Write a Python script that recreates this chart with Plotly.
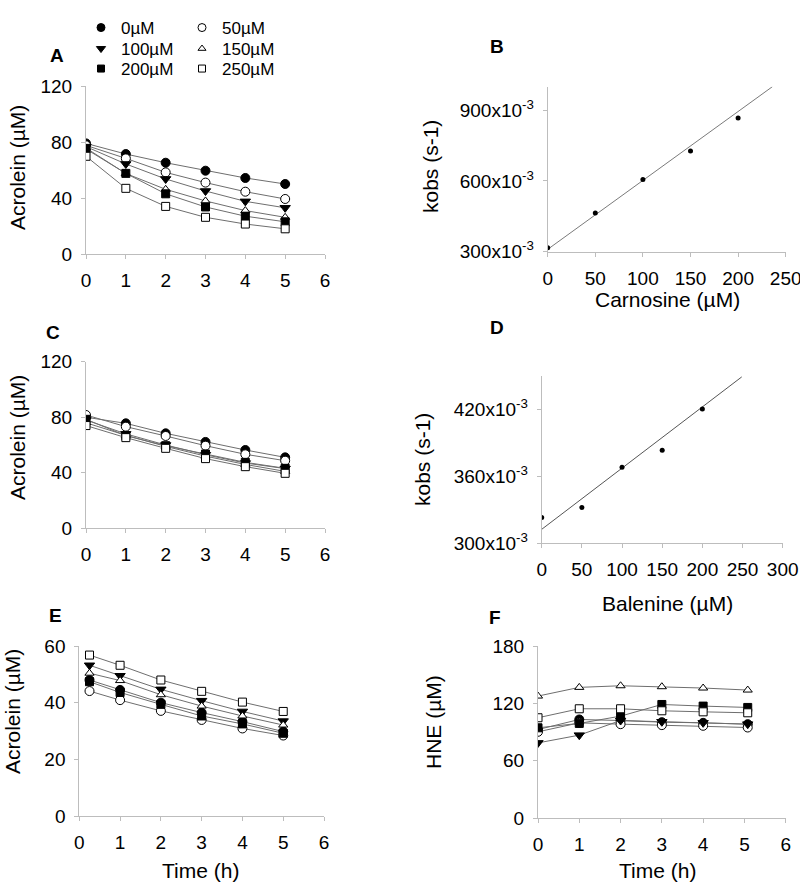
import plotly.graph_objects as go

# ---------------- data ----------------
conc_labels = ["0µM", "50µM", "100µM", "150µM", "200µM", "250µM"]

# Panel A: carnosine, acrolein vs time
time_A = [0, 1, 2, 3, 4, 5]
A_0 = [79.0, 71.4, 65.2, 59.5, 54.3, 50.0]
A_50 = [77.6, 68.3, 58.3, 51.0, 44.5, 39.3]
A_100 = [76.7, 64.3, 53.6, 45.0, 37.6, 33.0]
A_150 = [75.7, 57.5, 46.2, 37.9, 31.0, 26.2]
A_200 = [75.0, 57.6, 43.0, 33.6, 27.0, 23.0]
A_250 = [69.8, 46.9, 34.0, 26.2, 21.4, 18.0]

# Panel C: balenine, acrolein vs time
time_C = [0, 1, 2, 3, 4, 5]
C_0 = [80.0, 75.6, 68.4, 62.2, 56.4, 51.1]
C_50 = [81.6, 73.2, 66.5, 59.5, 53.3, 48.7]
C_100 = [78.0, 68.0, 60.0, 53.0, 47.0, 43.0]
C_150 = [76.0, 67.0, 59.0, 52.0, 46.0, 41.0]
C_200 = [78.5, 66.7, 59.5, 53.5, 47.5, 43.2]
C_250 = [74.0, 65.3, 57.6, 50.2, 44.4, 39.6]

# Panel E: acrolein vs time
time_E = [0.25, 1, 2, 3, 4, 5]
E_0 = [48.0, 44.5, 40.0, 36.5, 33.3, 29.8]
E_50 = [44.1, 40.9, 37.1, 33.9, 30.9, 28.4]
E_100 = [53.2, 49.5, 44.7, 40.7, 36.9, 33.5]
E_150 = [50.4, 47.8, 42.8, 38.8, 35.3, 32.1]
E_200 = [47.4, 43.6, 39.4, 35.3, 32.5, 29.2]
E_250 = [56.8, 53.2, 48.0, 44.0, 40.2, 36.9]

# Panel F: HNE vs time
time_F = [0, 1, 2, 3, 4, 5.08]
F_0 = [92.6, 103.1, 102.0, 100.3, 99.6, 98.2]
F_50 = [90.2, 99.6, 98.2, 97.2, 96.5, 94.7]
F_100 = [78.6, 86.7, 102.0, 100.7, 99.6, 98.2]
F_150 = [127.6, 136.7, 138.4, 137.4, 136.0, 133.9]
F_200 = [94.4, 99.0, 106.6, 118.8, 117.1, 115.7]
F_250 = [104.9, 114.3, 114.3, 112.2, 111.1, 110.1]

# Panel B: kobs vs carnosine
carnosine = [0, 50, 100, 150, 200]
kobs_B = [0.317, 0.464, 0.606, 0.727, 0.867]
fitB_x = [0, 236]
fitB_y = [0.31, 1.0]

# Panel D: kobs vs balenine
balenine = [0, 50, 100, 150, 200]
kobs_D = [0.323, 0.332, 0.368, 0.3833, 0.4203]
fitD_x = [0, 249]
fitD_y = [0.3125, 0.449]

B_ticks = [0.3, 0.6, 0.9]
B_ticktext = ["300x10<sup>-3</sup>", "600x10<sup>-3</sup>", "900x10<sup>-3</sup>"]
D_ticks = [0.30, 0.36, 0.42]
D_ticktext = ["300x10<sup>-3</sup>", "360x10<sup>-3</sup>", "420x10<sup>-3</sup>"]

# ---------------- styling ----------------
FONT = "Liberation Sans, Arial, sans-serif"
W, H = 800, 882
AX_COL = "#BDBDBD"
LINE_COL = "#6E6E6E"

styles = {
    "0µM": dict(symbol="circle", color="black", size=9),
    "50µM": dict(symbol="circle", color="white", size=9),
    "100µM": dict(symbol="triangle-down", color="black", size=9),
    "150µM": dict(symbol="triangle-up", color="white", size=8),
    "200µM": dict(symbol="square", color="black", size=8),
    "250µM": dict(symbol="square", color="white", size=8),
}

# legend slot for each concentration: (left x px, top y px)
legend_pos = {
    "0µM": (81, 10), "50µM": (182, 10),
    "100µM": (81, 31), "150µM": (182, 31),
    "200µM": (81, 51), "250µM": (182, 51),
}

def px_x(p):
    return p / W

def px_y(p):
    return 1 - p / H

fig = go.Figure()

def add_series(xs, series, xa, ya):
    for lab, ys in zip(conc_labels, series):
        st = styles[lab]
        fig.add_trace(go.Scatter(
            x=xs, y=ys, mode="lines+markers", xaxis=xa, yaxis=ya,
            line=dict(color=LINE_COL, width=1),
            marker=dict(symbol=st["symbol"], color=st["color"], size=st["size"],
                        line=dict(color="black", width=1)),
            showlegend=False, name=lab))

add_series(time_A, [A_0, A_50, A_100, A_150, A_200, A_250], "x", "y")
add_series(time_C, [C_0, C_50, C_100, C_150, C_200, C_250], "x3", "y3")
add_series(time_E, [E_0, E_50, E_100, E_150, E_200, E_250], "x5", "y5")
add_series(time_F, [F_0, F_50, F_100, F_150, F_200, F_250], "x6", "y6")

# legend-only entries (markers only), one legend per slot
legend_layouts = {}
for i, lab in enumerate(conc_labels):
    st = styles[lab]
    lid = "legend" if i == 0 else "legend%d" % (i + 1)
    fig.add_trace(go.Scatter(
        x=[None], y=[None], mode="markers", xaxis="x", yaxis="y",
        marker=dict(symbol=st["symbol"], color=st["color"], size=st["size"] - 1,
                    line=dict(color="black", width=1)),
        name=lab, showlegend=True, legend=lid))
    lx, ly = legend_pos[lab]
    legend_layouts[lid] = dict(x=px_x(lx), y=px_y(ly), xanchor="left", yanchor="top",
                               font=dict(family=FONT, size=17, color="black"),
                               bgcolor="rgba(0,0,0,0)", itemwidth=30)

# Panel B
fig.add_trace(go.Scatter(x=fitB_x, y=fitB_y, mode="lines", xaxis="x2", yaxis="y2",
                         line=dict(color="#7A7A7A", width=1), showlegend=False))
fig.add_trace(go.Scatter(x=carnosine, y=kobs_B, mode="markers", xaxis="x2", yaxis="y2",
                         marker=dict(color="black", size=5), showlegend=False))
# Panel D
fig.add_trace(go.Scatter(x=fitD_x, y=fitD_y, mode="lines", xaxis="x4", yaxis="y4",
                         line=dict(color="#555555", width=1), showlegend=False))
fig.add_trace(go.Scatter(x=balenine, y=kobs_D, mode="markers", xaxis="x4", yaxis="y4",
                         marker=dict(color="black", size=5), showlegend=False))

tickfont = dict(family=FONT, size=19, color="black")

def axis(domain, rng, dtick=None, anchor=None, tickvals=None, ticktext=None):
    d = dict(domain=domain, range=rng, showline=True, linecolor=AX_COL, linewidth=1,
             ticks="outside", ticklen=4, tickcolor=AX_COL, showgrid=False,
             zeroline=False, tickfont=tickfont, fixedrange=True, anchor=anchor,
             ticklabelstandoff=5, automargin=False, ticklabeloverflow="allow")
    if dtick is not None:
        d["dtick"] = dtick
        d["tick0"] = 0
    if tickvals is not None:
        d["tickmode"] = "array"
        d["tickvals"] = tickvals
        d["ticktext"] = ticktext
    return d

layout = dict(
    template="none",
    width=W, height=H, margin=dict(l=0, r=0, t=0, b=0, autoexpand=False),
    paper_bgcolor="white", plot_bgcolor="white",
    font=dict(family=FONT, color="black"),
    # A
    xaxis=axis([px_x(86), px_x(325)], [0, 6], 1, "y"),
    yaxis=axis([px_y(254), px_y(86)], [0, 120], 40, "x"),
    # B
    xaxis2=axis([px_x(547.7), px_x(785.7)], [0, 250], 50, "y2"),
    yaxis2=axis([px_y(251.7), px_y(86.7)], [0.3, 1.0], None, "x2", B_ticks, B_ticktext),
    # C
    xaxis3=axis([px_x(86), px_x(325)], [0, 6], 1, "y3"),
    yaxis3=axis([px_y(528.3), px_y(361.7)], [0, 120], 40, "x3"),
    # D
    xaxis4=axis([px_x(541.7), px_x(782.7)], [0, 300], 50, "y4"),
    yaxis4=axis([px_y(543.3), px_y(375.8)], [0.3, 0.45], None, "x4", D_ticks, D_ticktext),
    # E
    xaxis5=axis([px_x(79.3), px_x(324)], [0, 6], 1, "y5"),
    yaxis5=axis([px_y(816), px_y(646)], [0, 60], 20, "x5"),
    # F
    xaxis6=axis([px_x(538), px_x(785.7)], [0, 6], 1, "y6"),
    yaxis6=axis([px_y(818), px_y(646)], [0, 180], 60, "x6"),
)
layout.update(legend_layouts)
fig.update_layout(**layout)

annots = []
def txt(x, y, text, size=21, angle=0, bold=False):
    annots.append(dict(x=px_x(x), y=px_y(y), xref="paper", yref="paper",
                       text=("<b>%s</b>" % text) if bold else text,
                       showarrow=False, textangle=angle, xanchor="center", yanchor="middle",
                       font=dict(family=FONT, size=size, color="black")))

# panel labels
for lab, (x, y) in {"A": (57, 55), "B": (497, 47), "C": (53, 332), "D": (497, 327),
                    "E": (55, 615), "F": (495, 617)}.items():
    txt(x, y, lab, size=19, bold=True)

# axis titles
txt(17, 168, "Acrolein (µM)", angle=-90)
txt(17, 438, "Acrolein (µM)", angle=-90)
txt(12, 712, "Acrolein (µM)", angle=-90)
txt(433, 722, "HNE (µM)", angle=-90)
txt(430, 167, "kobs (s-1)", angle=-90)
txt(422, 460, "kobs (s-1)", angle=-90)
txt(667, 299, "Carnosine (µM)")
txt(667, 603, "Balenine (µM)")
txt(200, 870, "Time (h)")
txt(657, 870, "Time (h)")

fig.update_layout(annotations=annots)
fig.write_html("out.html", config={"displayModeBar": False},
               post_script="document.body.style.margin='0';document.body.style.overflow='hidden';")
